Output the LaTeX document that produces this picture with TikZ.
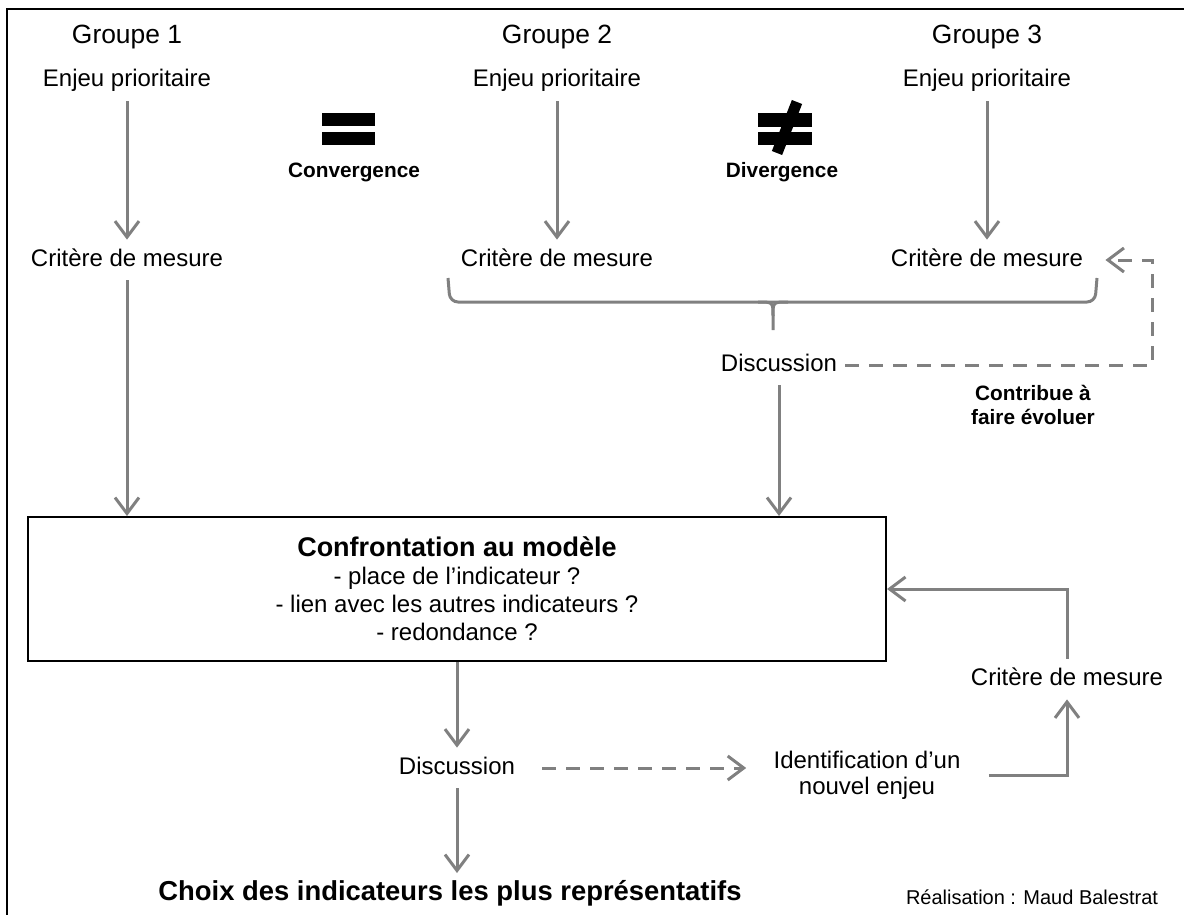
\documentclass[tikz,border=0pt]{standalone}
\usepackage{fontspec}
\setmainfont{Liberation Sans}
\usetikzlibrary{arrows.meta,positioning}
\definecolor{flowgray}{HTML}{808080}
\tikzset{
  grp/.style      = {font=\fontsize{13.2}{16}\selectfont, inner sep=4pt},
  lbl/.style      = {font=\fontsize{12}{14}\selectfont, inner sep=4pt, text height=9pt, text depth=3pt},
  twoline/.style  = {font=\fontsize{12}{13}\selectfont, inner sep=4pt, align=center},
  note/.style     = {font=\bfseries\fontsize{10.4}{12}\selectfont, align=center, inner sep=2pt},
  model/.style    = {draw, line width=1pt, minimum width=429pt, minimum height=72pt, align=center,
                     font=\fontsize{12}{14}\selectfont},
  flow/.style     = {draw=flowgray, line width=1.5pt, -{Straight Barb[length=8pt,width=12pt]}},
  dashflow/.style = {flow, dash pattern=on 7pt off 5pt},
  bracket/.style  = {draw=flowgray, line width=1.5pt, rounded corners=4pt},
  bar/.style      = {fill=black}
}

\begin{document}
\begin{tikzpicture}[x=0.5pt, y=-0.5pt]
    \useasboundingbox (0,0) rectangle (1184,915);
    \clip (0,0) rectangle (1184,915);
    % Frame
    \draw[line width=1.2pt] (7,9) rectangle (1210,940);
    % Groups
    \node[grp] (g1) at (127,37) {Groupe 1};
    \node[grp] (g2) at (557,37) {Groupe 2};
    \node[grp] (g3) at (987,37) {Groupe 3};
    \node[lbl] (e1) at (127,81) {Enjeu prioritaire};
    \node[lbl] (e2) at (557,81) {Enjeu prioritaire};
    \node[lbl] (e3) at (987,81) {Enjeu prioritaire};
    \node[lbl] (c1) at (127,260) {Critère de mesure};
    \node[lbl] (c2) at (557,260) {Critère de mesure};
    \node[lbl] (c3) at (987,260) {Critère de mesure};
    % Equal / not equal
    \fill[bar] (322,113) rectangle (375,126);
    \fill[bar] (322,132) rectangle (375,145);
    \node[note] (conv) at (354,172) {Convergence};
    \fill[bar] (758,113) rectangle (812,127);
    \fill[bar] (758,132) rectangle (812,145);
    \draw[line width=5.5pt] (797,102) -- (777,153);
    \node[note] (div) at (782,172) {Divergence};
    % Bracket under groups 2 and 3
    \coordinate (brL) at (448,278);
    \coordinate (brR) at (1097,278);
    \coordinate (brM) at (773,330);
    \draw[bracket] (brL) -- (450,302) -- (1095,302) -- (brR);
    \draw[draw=flowgray, line width=1.5pt] (758,302) .. controls (773,302) .. (773,316) -- (brM);
    \draw[draw=flowgray, line width=1.5pt] (788,302) .. controls (773,302) .. (773,316);
    \node[lbl] (disc1) at (779,365) {Discussion};
    \coordinate (fbk) at (1152,260);
    \node[note] (contrib) at (1033,405) {Contribue à\\faire évoluer};
    % Model box
    \node[model] (box) at (457,589) {{\bfseries\fontsize{13.5}{15}\selectfont Confrontation au modèle}\\
      - place de l’indicateur ?\\ - lien avec les autres indicateurs ?\\ - redondance ?};
    % Lower part
    \node[lbl] (disc2) at (457,768) {Discussion};
    \node[twoline] (ident) at (867,775) {Identification d’un\\nouvel enjeu};
    \node[lbl] (c4) at (1067,679) {Critère de mesure};
    \node[font=\bfseries\fontsize{13.7}{16}\selectfont] (choix) at (450,893) {Choix des indicateurs les plus représentatifs};
    \node[font=\fontsize{10}{12}\selectfont] (real) at (1032,897) {Réalisation : Maud Balestrat};
    % Wires
    \draw[flow] (e1) -- (c1);
    \draw[flow] (e2) -- (c2);
    \draw[flow] (e3) -- (c3);
    \draw[flow] (c1) -- (c1 |- box.north);
    \draw[flow] (disc1) -- (disc1 |- box.north);
    \draw[dashflow, shorten >=7pt] (disc1.east) -| (fbk) -- (c3);
    \draw[flow] (box.south -| disc2) -- (disc2);
    \draw[flow] (disc2) -- (disc2 |- choix.north);
    \draw[dashflow, shorten <=9.5pt, shorten >=9.5pt] (disc2.east) -- (disc2 -| ident.west);
    \draw[flow, shorten <=10pt] (ident.east) -| (c4);
    \draw[flow] (c4) |- (box.east);
\end{tikzpicture}
\end{document}
